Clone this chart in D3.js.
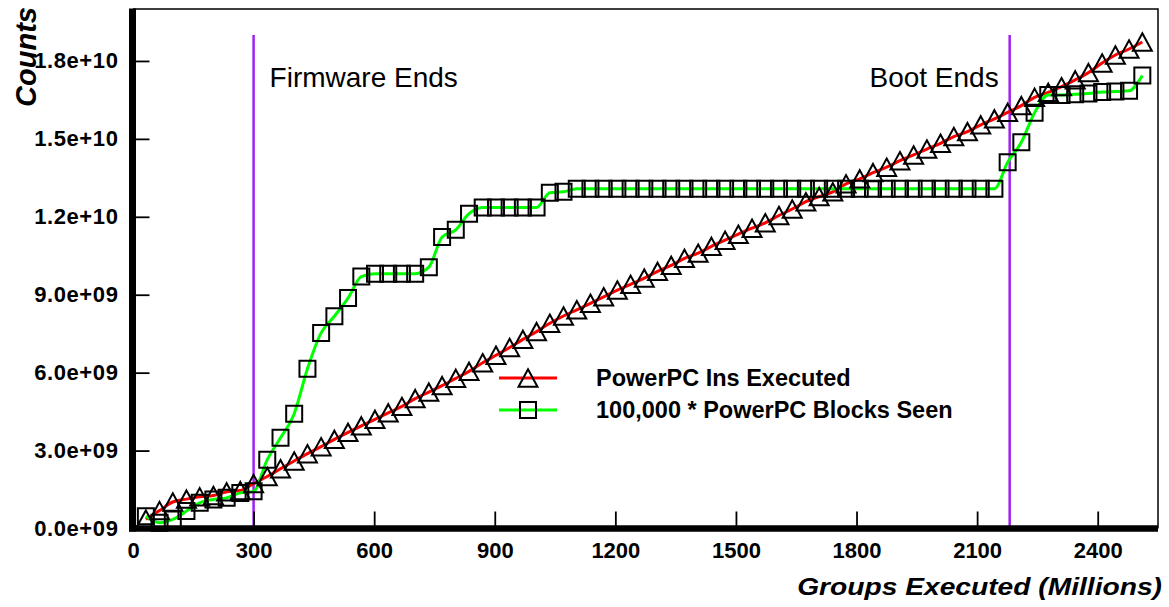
<!DOCTYPE html>
<html>
<head>
<meta charset="utf-8">
<script src="https://cdn.jsdelivr.net/npm/d3@7"></script>
<style>
  body { margin: 0; background: #fff; }
  svg { display: block; font-family: "Liberation Sans", Arial, Helvetica, sans-serif; }
</style>
</head>
<body>
<div class="canvas"></div>
<script>
// sample points (Groups Executed, millions)
const groups = [32, 66, 99, 133, 166, 200, 233, 267, 300, 334,
  367, 401, 434, 468, 501, 535, 568, 602, 635, 669,
  702, 736, 769, 803, 836, 870, 903, 937, 970, 1004,
  1037, 1071, 1104, 1138, 1171, 1205, 1238, 1272, 1305, 1339,
  1372, 1406, 1439, 1473, 1506, 1540, 1573, 1607, 1640, 1674,
  1707, 1741, 1774, 1808, 1841, 1875, 1908, 1942, 1975, 2009,
  2042, 2076, 2109, 2143, 2176, 2210, 2243, 2277, 2310, 2344,
  2377, 2411, 2444, 2478, 2511];

// counts, in billions
const insExecuted = [0.36, 0.69, 1.02, 1.13, 1.22, 1.27, 1.41, 1.46, 1.73, 2.00,
  2.30, 2.60, 2.88, 3.15, 3.43, 3.70, 3.95, 4.20, 4.45, 4.70,
  5.00, 5.25, 5.50, 5.78, 6.05, 6.38, 6.67, 6.97, 7.28, 7.58,
  7.90, 8.18, 8.42, 8.67, 8.92, 9.18, 9.40, 9.64, 9.90, 10.13,
  10.40, 10.60, 10.86, 11.10, 11.33, 11.56, 11.77, 12.05, 12.30, 12.58,
  12.78, 12.96, 13.27, 13.46, 13.70, 13.91, 14.16, 14.38, 14.61, 14.83,
  15.09, 15.28, 15.54, 15.77, 16.02, 16.28, 16.60, 16.79, 17.01, 17.27,
  17.55, 17.92, 18.23, 18.46, 18.73];

const blocksSeen = [0.47, 0.22, 0.35, 0.67, 0.99, 1.12, 1.18, 1.37, 1.43, 2.65,
  3.49, 4.42, 6.15, 7.53, 8.17, 8.87, 9.70, 9.81, 9.81, 9.81,
  9.81, 10.06, 11.22, 11.50, 12.12, 12.36, 12.36, 12.36, 12.36, 12.36,
  12.93, 12.96, 13.08, 13.08, 13.08, 13.08, 13.08, 13.08, 13.08, 13.08,
  13.08, 13.08, 13.08, 13.08, 13.08, 13.08, 13.08, 13.08, 13.08, 13.08,
  13.08, 13.08, 13.08, 13.08, 13.08, 13.08, 13.08, 13.08, 13.08, 13.08,
  13.08, 13.08, 13.08, 13.08, 14.10, 14.87, 16.01, 16.69, 16.69, 16.72,
  16.75, 16.80, 16.82, 16.85, 17.44];

const xTicks = [0, 300, 600, 900, 1200, 1500, 1800, 2100, 2400];
const yTicks = [0, 3, 6, 9, 12, 15, 18];
const yTickLabels = ['0.0e+09', '3.0e+09', '6.0e+09', '9.0e+09', '1.2e+10', '1.5e+10', '1.8e+10'];

// vertical event markers
const events = [
  { name: 'Firmware Ends', at: 300, side: 'right' },
  { name: 'Boot Ends', at: 2181, side: 'left' }
];

const seriesNames = ['PowerPC Ins Executed', '100,000 * PowerPC Blocks Seen'];

// plot box
const box = { left: 133, right: 1158, top: 9, bottom: 528.5 };

const svg = d3.select('.canvas')
  .append('svg')
  .attr('width', 1169)
  .attr('height', 607);

const x = d3.scaleLinear().domain([0, 2550]).range([box.left, box.right]);
const y = d3.scaleLinear().domain([0, 20]).range([box.bottom, box.top]);

// thin frame on top and right
svg.append('path')
  .attr('d', `M${box.left},${box.top}H${box.right}V${box.bottom}`)
  .attr('fill', 'none')
  .attr('stroke', '#000')
  .attr('stroke-width', 1.5);

// event lines + labels
events.forEach(ev => {
  svg.append('line')
    .attr('x1', x(ev.at)).attr('x2', x(ev.at))
    .attr('y1', 35).attr('y2', box.bottom)
    .attr('stroke', '#a020f0')
    .attr('stroke-width', 2.5);
  svg.append('text')
    .attr('x', ev.side === 'right' ? x(ev.at) + 16 : x(ev.at) - 11)
    .attr('y', 87)
    .attr('text-anchor', ev.side === 'right' ? 'start' : 'end')
    .style('font-size', '28px')
    .text(ev.name);
});

// the two series
const rows = groups.map((g, i) => ({ g, ins: insExecuted[i], blk: blocksSeen[i] }));

const lineIns = d3.line().x(d => x(d.g)).y(d => y(d.ins)).curve(d3.curveMonotoneX);
const lineBlk = d3.line().x(d => x(d.g)).y(d => y(d.blk)).curve(d3.curveMonotoneX);

svg.append('path').datum(rows)
  .attr('d', lineIns)
  .attr('fill', 'none').attr('stroke', '#ff0000').attr('stroke-width', 3);

svg.append('path').datum(rows)
  .attr('d', lineBlk)
  .attr('fill', 'none').attr('stroke', '#00ff00').attr('stroke-width', 3);

// marker shapes
const tri = 'M0,-8.7L9.5,8.7L-9.5,8.7Z';
const sq = 'M-8,-8H8V8H-8Z';

svg.append('g').selectAll('path')
  .data(rows)
  .join('path')
  .attr('d', tri)
  .attr('transform', d => `translate(${x(d.g)},${y(d.ins)})`)
  .attr('fill', 'none').attr('stroke', '#000').attr('stroke-width', 2);

svg.append('g').selectAll('path')
  .data(rows)
  .join('path')
  .attr('d', sq)
  .attr('transform', d => `translate(${x(d.g)},${y(d.blk)})`)
  .attr('fill', 'none').attr('stroke', '#000').attr('stroke-width', 2);

// axes
const xAxis = d3.axisBottom(x)
  .tickValues(xTicks)
  .tickFormat(d3.format('d'))
  .tickSizeInner(-17)
  .tickSizeOuter(0)
  .tickPadding(14);

const yAxis = d3.axisLeft(y)
  .tickValues(yTicks)
  .tickFormat((d, i) => yTickLabels[i])
  .tickSizeInner(-17)
  .tickSizeOuter(0)
  .tickPadding(14);

const gx = svg.append('g')
  .attr('transform', `translate(0,${box.bottom})`)
  .call(xAxis);
gx.select('.domain')
  .attr('d', `M${box.left - 4},0H${box.right}`)
  .attr('stroke-width', 6.5);

const gy = svg.append('g')
  .attr('transform', `translate(${box.left - 0.5},0)`)
  .call(yAxis);
gy.select('.domain')
  .attr('d', `M0,${box.top - 0.5}V${box.bottom + 3}`)
  .attr('stroke-width', 7);

[gx, gy].forEach(g => {
  g.selectAll('.tick line').attr('stroke', '#000').attr('stroke-width', 1.8);
  g.selectAll('.tick text')
    .attr('fill', '#000')
    .style('font-size', '22px')
    .style('font-weight', 'bold')
    .style('font-family', '"Liberation Sans", Arial, sans-serif');
});
gy.selectAll('.tick text').style('letter-spacing', '0.6px');

// axis titles
svg.append('text')
  .attr('transform', 'translate(1162,595) scale(1.2,1)')
  .attr('text-anchor', 'end')
  .style('font-size', '23.5px')
  .style('font-weight', 'bold')
  .style('font-style', 'italic')
  .text('Groups Executed (Millions)');

svg.append('text')
  .attr('transform', 'translate(36,57) rotate(-90)')
  .attr('text-anchor', 'middle')
  .style('font-size', '29px')
  .style('font-weight', 'bold')
  .style('font-style', 'italic')
  .text('Counts');

// legend
const legend = svg.append('g');
const legendRows = [
  { name: seriesNames[0], color: '#ff0000', mark: tri, cy: 378 },
  { name: seriesNames[1], color: '#00ff00', mark: sq, cy: 410 }
];
legendRows.forEach(r => {
  legend.append('line')
    .attr('x1', 499).attr('x2', 557)
    .attr('y1', r.cy).attr('y2', r.cy)
    .attr('stroke', r.color).attr('stroke-width', 3);
  legend.append('path')
    .attr('d', r.mark)
    .attr('transform', `translate(528,${r.cy})`)
    .attr('fill', 'none').attr('stroke', '#000').attr('stroke-width', 2);
  legend.append('text')
    .attr('x', 596).attr('y', r.cy + 7.5)
    .style('font-size', '23.5px')
    .style('font-weight', 'bold')
    .text(r.name);
});
</script>
</body>
</html>
